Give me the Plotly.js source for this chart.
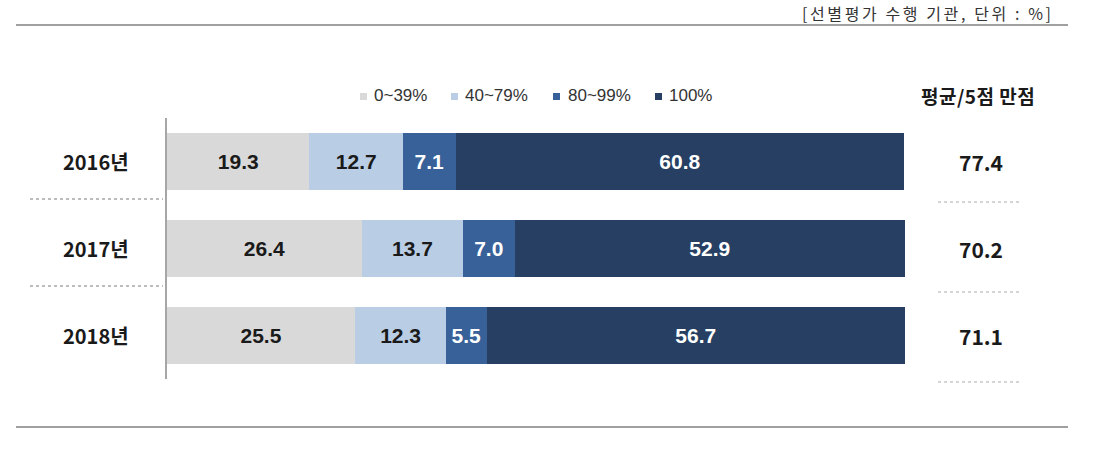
<!DOCTYPE html>
<html>
<head>
<meta charset="utf-8">
<script src="https://cdn.plot.ly/plotly-3.0.1.min.js"></script>
<style>html,body{margin:0;padding:0;background:#fff;}#chart{width:1097px;height:449px;}</style>
</head>
<body>
<div id="chart"></div>
<script>
// ---- data ----
const years = ['2016년', '2017년', '2018년'];
const seriesNames = ['0~39%', '40~79%', '80~99%', '100%'];
const s0to39 = [19.3, 26.4, 25.5];
const s40to79 = [12.7, 13.7, 12.3];
const s80to99 = [7.1, 7.0, 5.5];
const s100 = [60.8, 52.9, 56.7];
const avgScore = [77.4, 70.2, 71.1];
const noteText = '[선별평가 수행 기관, 단위 : %]';
const avgHeader = '평균/5점 만점';

// ---- styles ----
const W = 1097, H = 449;
const colors = ['#D9D9D9', '#B9CDE5', '#386199', '#263F62'];
const textColors = ['#1a1a1a', '#1a1a1a', '#ffffff', '#ffffff'];
const px = v => v / W;
const py = v => 1 - v / H;

const values = [s0to39, s40to79, s80to99, s100];
const traces = values.map((vals, i) => ({
  type: 'bar',
  orientation: 'h',
  name: seriesNames[i],
  y: years,
  x: vals,
  width: 0.655,
  marker: {color: colors[i], line: {width: 0}},
  texttemplate: '%{x:.1f}',
  textposition: 'inside',
  insidetextanchor: 'middle',
  textangle: 0,
  constraintext: 'none',
  insidetextfont: {family: 'Liberation Sans, Arial, sans-serif', size: 21, color: textColors[i], weight: 'bold'},
  showlegend: false,
  hoverinfo: 'skip'
}));

const annotations = [];
const shapes = [];
const catFont = {family: 'Noto Sans CJK KR, sans-serif', size: 20, color: '#1a1a1a', weight: 'bold'};

years.forEach((yr, i) => {
  annotations.push({xref: 'paper', yref: 'y', x: px(96), y: yr, text: '<b>' + yr + '</b>', showarrow: false, xanchor: 'center', yanchor: 'middle', font: catFont});
  annotations.push({xref: 'paper', yref: 'y', x: px(981), y: yr, text: '<b>' + avgScore[i].toFixed(1) + '</b>', showarrow: false, xanchor: 'center', yanchor: 'middle', font: {family: 'Noto Sans CJK KR, sans-serif', size: 21, color: '#1a1a1a'}});
});

annotations.push({xref: 'paper', yref: 'paper', x: px(978), y: py(96), text: '<b><span style="letter-spacing:0.5px">' + avgHeader + '</span></b>', showarrow: false, xanchor: 'center', yanchor: 'middle', font: {family: 'Noto Sans CJK KR, sans-serif', size: 19, color: '#1a1a1a'}});
annotations.push({xref: 'paper', yref: 'paper', x: px(1056), y: py(13), text: '<span style="letter-spacing:2.6px">' + noteText + '</span>', showarrow: false, xanchor: 'right', yanchor: 'middle', font: {family: 'Noto Sans CJK KR, sans-serif', size: 16, color: '#333333'}});

// custom legend
const legendSquareX = [360, 451, 553, 655];
const legendTextX = [372, 463, 566, 667];
seriesNames.forEach((n, i) => {
  shapes.push({type: 'rect', xref: 'paper', yref: 'paper', x0: px(legendSquareX[i]), x1: px(legendSquareX[i] + 7), y0: py(100), y1: py(93), fillcolor: colors[i], line: {width: 0}});
  annotations.push({xref: 'paper', yref: 'paper', x: px(legendTextX[i]), y: py(95), text: n, showarrow: false, xanchor: 'left', yanchor: 'middle', font: {family: 'Liberation Sans, Arial, sans-serif', size: 17, color: '#333333'}});
});

// frame lines
shapes.push({type: 'line', xref: 'paper', yref: 'paper', x0: px(16), x1: px(1068), y0: py(25), y1: py(25), line: {color: '#A0A0A0', width: 2}});
shapes.push({type: 'line', xref: 'paper', yref: 'paper', x0: px(16), x1: px(1068), y0: py(427), y1: py(427), line: {color: '#A0A0A0', width: 2}});
// dotted separators
[199, 286].forEach(y => shapes.push({type: 'line', xref: 'paper', yref: 'paper', x0: px(30), x1: px(163), y0: py(y), y1: py(y), line: {color: '#A6A6A6', width: 1.5, dash: 'dot'}}));
[202, 292, 382].forEach(y => shapes.push({type: 'line', xref: 'paper', yref: 'paper', x0: px(938), x1: px(1022), y0: py(y), y1: py(y), line: {color: '#C8C8C8', width: 1.5, dash: 'dot'}}));

const layout = {
  width: W, height: H, autosize: false,
  margin: {l: 0, r: 0, t: 0, b: 0, pad: 0},
  paper_bgcolor: '#ffffff', plot_bgcolor: 'rgba(0,0,0,0)',
  barmode: 'stack', bargap: 0,
  showlegend: false,
  xaxis: {domain: [px(167), px(905)], range: [0, 100], showgrid: false, zeroline: false, showticklabels: false, showline: false, ticks: ''},
  yaxis: {domain: [py(379), py(118)], type: 'category', range: [2.5, -0.5], showgrid: false, zeroline: false, showticklabels: false, ticks: '', showline: true, linecolor: '#A6A6A6', linewidth: 2},
  annotations: annotations,
  shapes: shapes,
  hovermode: false
};

Plotly.newPlot('chart', traces, layout, {staticPlot: true, displayModeBar: false});
</script>
</body>
</html>
